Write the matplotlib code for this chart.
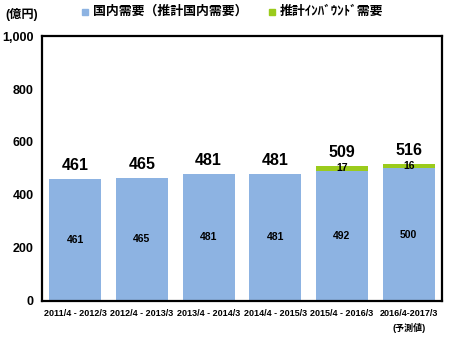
import numpy as np
import matplotlib
matplotlib.use("Agg")
import matplotlib.pyplot as plt

plt.rcParams['font.family'] = ['Liberation Sans', 'Noto Sans CJK JP']
plt.rcParams['font.weight'] = 'bold'

# data (億円)
periods = ['2011/4 - 2012/3', '2012/4 - 2013/3', '2013/4 - 2014/3',
           '2014/4 - 2015/3', '2015/4 - 2016/3', '2016/4-2017/3\n(予測値)']
domestic = [461, 465, 481, 481, 492, 500]
inbound = [0, 0, 0, 0, 17, 16]
totals = [461, 465, 481, 481, 509, 516]

blue = '#8DB3E2'
green = '#9BCB1C'

fig = plt.figure(figsize=(4.54, 3.4), dpi=100)
ax = fig.add_axes([0.0925, 0.115, 0.881, 0.779])

x = np.arange(len(periods))
w = 0.78
ax.bar(x, domestic, w, color=blue)
ax.bar(x, inbound, w, bottom=domestic, color=green)

for i in range(len(x)):
    ax.text(x[i], domestic[i] / 2, str(domestic[i]), ha='center', va='center', fontsize=7.5)
    if inbound[i] > 0:
        ax.text(x[i], domestic[i] + inbound[i] / 2 + 3, str(inbound[i]), ha='center', va='center', fontsize=7.5)
    ax.text(x[i], totals[i] + 50, str(totals[i]), ha='center', va='center', fontsize=11.5)

ax.set_xlim(-0.5, len(periods) - 0.5)
ax.set_ylim(0, 1000)
ax.set_yticks([0, 200, 400, 600, 800, 1000])
ax.set_yticklabels(['0', '200', '400', '600', '800', '1,000'], fontsize=9)
ax.set_xticks(x)
ax.set_xticklabels(periods, fontsize=6.5, linespacing=1.6)
ax.tick_params(length=0, pad=6)
ax.tick_params(axis='y', pad=6)
for s in ax.spines.values():
    s.set_linewidth(1.6)

fig.text(0.011, 0.958, '(億円)', fontsize=8.8, va='center')
fig.patches.append(plt.Rectangle((82 / 454, 1 - 15 / 340), 6 / 454, 6 / 340,
                                 transform=fig.transFigure, color=blue))
fig.text(93 / 454, 1 - 12 / 340, '国内需要（推計国内需要）', fontsize=9.3, va='center')
fig.patches.append(plt.Rectangle((269 / 454, 1 - 15 / 340), 6 / 454, 6 / 340,
                                 transform=fig.transFigure, color=green))
fig.text(280 / 454, 1 - 12 / 340, '推計ｲﾝﾊﾞｳﾝﾄﾞ需要', fontsize=9.3, va='center')

fig.savefig('out.png', dpi=100)
